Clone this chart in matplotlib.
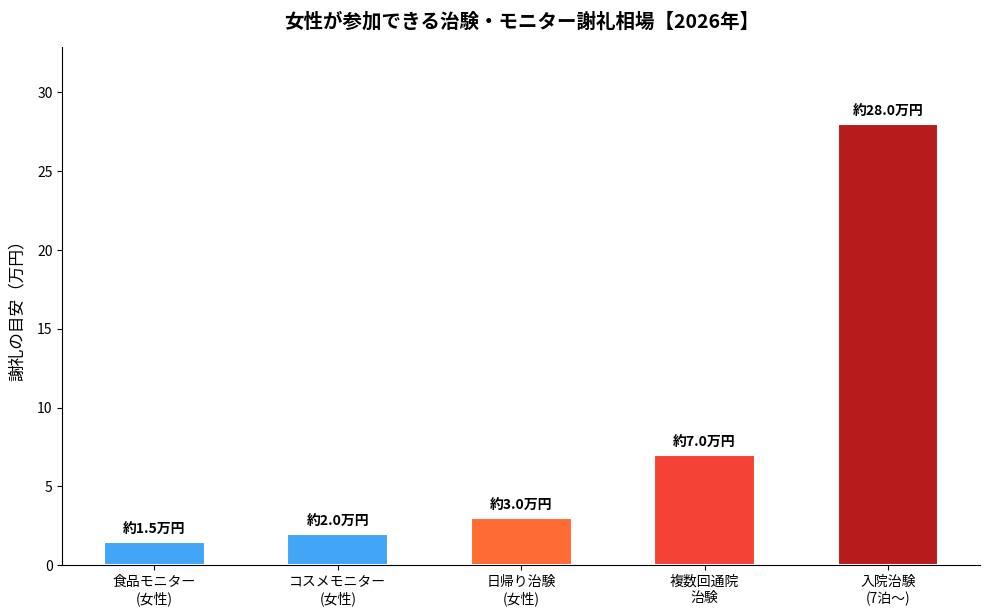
import matplotlib

matplotlib.use("Agg")
import matplotlib.pyplot as plt

plt.rcParams["font.family"] = ["Noto Sans CJK JP", "DejaVu Sans"]

categories = ["食品モニター\n(女性)", "コスメモニター\n(女性)", "日帰り治験\n(女性)", "複数回通院\n治験", "入院治験\n(7泊〜)"]
rewards = [1.5, 2.0, 3.0, 7.0, 28.0]
colors = ["#42A5F5", "#42A5F5", "#FF6B35", "#F44336", "#B71C1C"]

fig, ax = plt.subplots(figsize=(9.89, 6.15), dpi=100)
bars = ax.bar(categories, rewards, width=0.55, color=colors, edgecolor="white", linewidth=1.5)
for bar, value in zip(bars, rewards):
    ax.text(bar.get_x() + bar.get_width() / 2, value + 0.3, f"約{value:.1f}万円",
            ha="center", va="bottom", fontsize=10, fontweight="bold")

ax.set_ylim(0, 32.9)
ax.set_ylabel("謝礼の目安（万円）", fontsize=12, labelpad=8)
ax.set_title("女性が参加できる治験・モニター謝礼相場【2026年】", fontsize=14, fontweight="bold", pad=14)
ax.tick_params(axis="both", labelsize=10)
ax.spines["top"].set_visible(False)
ax.spines["right"].set_visible(False)
fig.subplots_adjust(left=0.063, right=0.991, bottom=0.081, top=0.924)
fig.savefig("out.png", dpi=100)
